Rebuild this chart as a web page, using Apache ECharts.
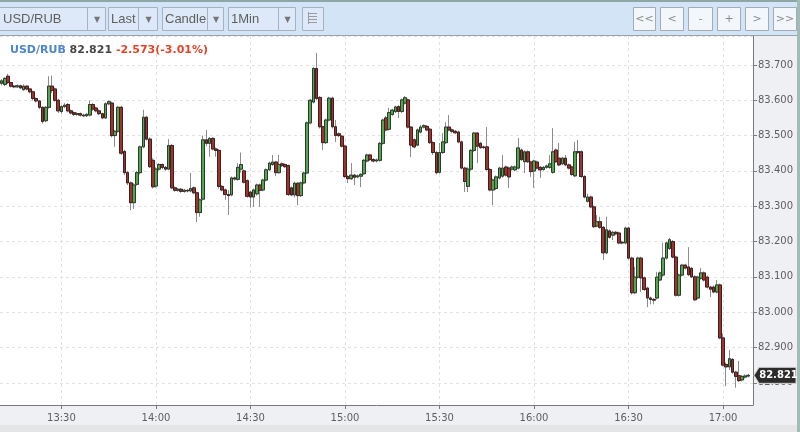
<!DOCTYPE html>
<html>
<head>
<meta charset="utf-8">
<script src="https://cdn.jsdelivr.net/npm/echarts@6/dist/echarts.min.js"></script>
<style>
html,body{margin:0;padding:0;background:#eef0f3;}
#chart{width:800px;height:432px;}
</style>
</head>
<body>
<div id="chart"></div>
<script>
// ---- data ----
const symbolName = 'USD/RUB';
const lastPrice = 82.821;
const priceChange = -2.573;
const priceChangePct = -3.01;
const startTime = '13:11';
const categoryCount = 239;
const xTickLabels = ['13:30','14:00','14:30','15:00','15:30','16:00','16:30','17:00'];
const yTickLabels = ['82.800','82.900','83.000','83.100','83.200','83.300','83.400','83.500','83.600','83.700'];
const yMin = 82.737;
const yMax = 83.782;
// [open, close, low, high] per minute
const candles = [
[83.648,83.655,83.642,83.660],[83.645,83.662,83.640,83.665],[83.668,83.650,83.646,83.675],[83.650,83.640,83.636,83.652],
[83.640,83.638,83.634,83.643],[83.638,83.641,83.635,83.645],[83.641,83.635,83.632,83.644],[83.630,83.640,83.627,83.645],
[83.640,83.632,83.628,83.642],[83.632,83.624,83.620,83.634],[83.624,83.605,83.600,83.627],[83.605,83.598,83.594,83.608],
[83.598,83.580,83.575,83.600],[83.580,83.540,83.534,83.583],[83.542,83.580,83.538,83.584],[83.580,83.640,83.576,83.668],
[83.640,83.628,83.620,83.670],[83.632,83.600,83.596,83.636],[83.600,83.570,83.564,83.604],[83.568,83.582,83.562,83.586],
[83.582,83.586,83.578,83.592],[83.588,83.570,83.566,83.592],[83.570,83.564,83.560,83.574],[83.565,83.560,83.556,83.568],
[83.560,83.562,83.556,83.566],[83.562,83.558,83.554,83.565],[83.558,83.556,83.552,83.562],[83.556,83.560,83.552,83.564],
[83.558,83.588,83.554,83.600],[83.588,83.575,83.570,83.592],[83.578,83.570,83.566,83.582],[83.570,83.562,83.558,83.574],
[83.562,83.550,83.546,83.565],[83.550,83.590,83.547,83.594],[83.590,83.596,83.586,83.600],[83.592,83.500,83.495,83.596],
[83.500,83.512,83.468,83.516],[83.512,83.580,83.508,83.584],[83.580,83.450,83.445,83.584],[83.455,83.395,83.388,83.460],
[83.395,83.366,83.360,83.400],[83.366,83.310,83.289,83.370],[83.310,83.360,83.292,83.365],[83.362,83.395,83.358,83.400],
[83.395,83.468,83.390,83.472],[83.468,83.552,83.464,83.573],[83.552,83.490,83.486,83.556],[83.490,83.412,83.408,83.495],
[83.430,83.355,83.350,83.436],[83.357,83.405,83.352,83.410],[83.405,83.418,83.400,83.422],[83.418,83.410,83.405,83.421],
[83.410,83.405,83.400,83.414],[83.405,83.472,83.402,83.490],[83.472,83.352,83.348,83.476],[83.352,83.345,83.341,83.356],
[83.345,83.348,83.341,83.352],[83.348,83.342,83.338,83.351],[83.342,83.345,83.338,83.349],[83.345,83.343,83.339,83.348],
[83.343,83.350,83.339,83.394],[83.352,83.338,83.334,83.356],[83.338,83.282,83.255,83.341],[83.282,83.318,83.270,83.322],
[83.320,83.488,83.316,83.500],[83.488,83.478,83.470,83.516],[83.478,83.492,83.440,83.496],[83.492,83.462,83.458,83.495],
[83.462,83.458,83.440,83.466],[83.458,83.356,83.350,83.462],[83.356,83.346,83.342,83.360],[83.346,83.333,83.318,83.350],
[83.333,83.330,83.275,83.345],[83.332,83.380,83.328,83.384],[83.380,83.377,83.372,83.384],[83.376,83.410,83.372,83.422],
[83.405,83.418,83.395,83.452],[83.400,83.368,83.364,83.404],[83.372,83.328,83.324,83.376],[83.340,83.326,83.296,83.344],
[83.326,83.346,83.298,83.350],[83.335,83.360,83.330,83.364],[83.360,83.345,83.298,83.364],[83.346,83.374,83.342,83.378],
[83.374,83.403,83.370,83.407],[83.403,83.422,83.400,83.426],[83.418,83.425,83.414,83.445],[83.425,83.395,83.385,83.428],
[83.395,83.418,83.392,83.445],[83.420,83.415,83.411,83.424],[83.418,83.412,83.408,83.421],[83.415,83.333,83.329,83.418],
[83.352,83.332,83.328,83.356],[83.332,83.365,83.325,83.370],[83.365,83.330,83.303,83.368],[83.330,83.366,83.326,83.370],
[83.366,83.394,83.362,83.398],[83.394,83.536,83.390,83.540],[83.536,83.600,83.532,83.604],[83.595,83.690,83.591,83.694],
[83.690,83.605,83.600,83.734],[83.608,83.525,83.520,83.612],[83.525,83.480,83.459,83.528],[83.480,83.544,83.476,83.548],
[83.544,83.606,83.540,83.610],[83.606,83.525,83.520,83.610],[83.525,83.500,83.482,83.544],[83.505,83.500,83.496,83.509],
[83.498,83.470,83.466,83.502],[83.470,83.384,83.380,83.474],[83.384,83.378,83.366,83.388],[83.378,83.388,83.374,83.422],
[83.388,83.382,83.360,83.392],[83.383,83.386,83.379,83.390],[83.385,83.390,83.354,83.394],[83.392,83.430,83.388,83.434],
[83.428,83.445,83.424,83.449],[83.445,83.432,83.428,83.448],[83.432,83.428,83.424,83.436],[83.428,83.431,83.424,83.435],
[83.430,83.478,83.426,83.482],[83.478,83.544,83.474,83.548],[83.550,83.516,83.512,83.556],[83.518,83.565,83.514,83.578],
[83.560,83.572,83.556,83.576],[83.568,83.581,83.564,83.585],[83.582,83.568,83.550,83.586],[83.568,83.601,83.564,83.605],
[83.592,83.607,83.588,83.612],[83.601,83.524,83.520,83.605],[83.524,83.473,83.439,83.527],[83.488,83.468,83.464,83.492],
[83.473,83.516,83.470,83.520],[83.510,83.524,83.506,83.530],[83.524,83.528,83.520,83.532],[83.526,83.516,83.512,83.530],
[83.518,83.480,83.476,83.522],[83.480,83.452,83.445,83.484],[83.452,83.395,83.390,83.456],[83.396,83.452,83.392,83.479],
[83.452,83.482,83.448,83.507],[83.480,83.524,83.476,83.538],[83.524,83.516,83.512,83.558],[83.516,83.512,83.507,83.520],
[83.512,83.508,83.504,83.516],[83.510,83.482,83.478,83.514],[83.482,83.408,83.404,83.486],[83.408,83.370,83.340,83.412],
[83.356,83.405,83.340,83.410],[83.405,83.458,83.400,83.462],[83.458,83.507,83.454,83.511],[83.507,83.470,83.422,83.510],
[83.478,83.466,83.462,83.482],[83.468,83.466,83.462,83.472],[83.468,83.404,83.400,83.524],[83.404,83.346,83.342,83.408],
[83.346,83.374,83.303,83.378],[83.350,83.383,83.346,83.387],[83.380,83.408,83.376,83.412],[83.385,83.408,83.381,83.445],
[83.411,83.388,83.384,83.415],[83.408,83.383,83.352,83.412],[83.405,83.411,83.401,83.415],[83.403,83.411,83.399,83.415],
[83.408,83.465,83.404,83.493],[83.459,83.432,83.428,83.463],[83.426,83.454,83.394,83.458],[83.454,83.426,83.422,83.458],
[83.425,83.398,83.383,83.429],[83.400,83.428,83.352,83.432],[83.425,83.408,83.404,83.429],[83.410,83.403,83.380,83.414],
[83.404,83.410,83.400,83.414],[83.410,83.414,83.406,83.418],[83.410,83.420,83.406,83.445],[83.396,83.454,83.392,83.521],
[83.459,83.426,83.422,83.463],[83.436,83.417,83.413,83.479],[83.420,83.436,83.416,83.440],[83.436,83.417,83.413,83.445],
[83.417,83.408,83.404,83.421],[83.411,83.390,83.386,83.415],[83.386,83.454,83.382,83.482],[83.452,83.455,83.448,83.488],
[83.454,83.384,83.380,83.458],[83.384,83.326,83.322,83.388],[83.314,83.326,83.310,83.335],[83.326,83.298,83.294,83.330],
[83.298,83.242,83.238,83.302],[83.244,83.256,83.240,83.275],[83.256,83.240,83.236,83.270],[83.240,83.168,83.148,83.244],
[83.168,83.233,83.164,83.270],[83.230,83.212,83.208,83.234],[83.218,83.226,83.204,83.230],[83.226,83.222,83.218,83.230],
[83.224,83.196,83.192,83.228],[83.198,83.196,83.192,83.202],[83.196,83.238,83.192,83.242],[83.238,83.153,83.149,83.242],
[83.153,83.055,83.050,83.157],[83.055,83.099,83.051,83.128],[83.099,83.153,83.095,83.157],[83.153,83.097,83.057,83.157],
[83.097,83.064,83.060,83.101],[83.068,83.040,83.014,83.072],[83.040,83.036,83.022,83.044],[83.036,83.034,83.022,83.040],
[83.040,83.099,83.036,83.114],[83.091,83.111,83.087,83.115],[83.105,83.153,83.100,83.196],[83.153,83.196,83.149,83.200],
[83.180,83.205,83.176,83.210],[83.200,83.156,83.152,83.204],[83.156,83.048,83.044,83.160],[83.048,83.105,83.044,83.109],
[83.105,83.133,83.101,83.137],[83.133,83.125,83.121,83.137],[83.128,83.106,83.102,83.184],[83.124,83.100,83.096,83.128],
[83.100,83.035,83.031,83.104],[83.040,83.099,83.036,83.103],[83.096,83.111,83.092,83.125],[83.111,83.091,83.087,83.115],
[83.099,83.071,83.067,83.103],[83.071,83.065,83.043,83.075],[83.071,83.057,83.053,83.075],[83.057,83.077,83.053,83.091],
[83.077,82.927,82.923,83.081],[82.927,82.850,82.846,82.940],[82.852,82.845,82.790,82.858],[82.845,82.868,82.836,82.893],
[82.866,82.830,82.826,82.870],[82.830,82.818,82.786,82.834],[82.820,82.806,82.802,82.862],[82.808,82.818,82.804,82.822],
[82.816,82.819,82.812,82.824],[82.819,82.821,82.815,82.825]
];

// ---- build ----
const categories = [];
(function(){
  const p = startTime.split(':');
  const s = (+p[0]) * 60 + (+p[1]);
  for (let k = 0; k < categoryCount; k++) {
    const m = s + k;
    categories.push(String(Math.floor(m / 60)).padStart(2, '0') + ':' + String(m % 60).padStart(2, '0'));
  }
})();
const bodies = candles.map(d => [d[0], d[1], Math.min(d[0], d[1]), Math.max(d[0], d[1])]);
const showTick = (idx, val) => xTickLabels.indexOf(val) >= 0;

const FONT = 'DejaVu Sans';
const UP = '#4fa84c', DOWN = '#a3302b';

// toolbar graphics
const g = [];
g.push({type:'rect', shape:{x:0,y:0,width:800,height:35}, style:{fill:'#d4e4f7'}, z:100});
g.push({type:'rect', shape:{x:0,y:0,width:800,height:2}, style:{fill:'#8ea6a6'}, z:101});
g.push({type:'line', shape:{x1:0,y1:35.5,x2:800,y2:35.5}, style:{stroke:'#9aa3aa', lineWidth:1}, z:101});
g.push({type:'rect', shape:{x:797,y:0,width:3,height:432}, style:{fill:'#a3bbb6'}, z:102});
g.push({type:'rect', shape:{x:0,y:425,width:797,height:7}, style:{fill:'#e3e5e7'}, z:100});
const dropdowns = [
  {x:-1, w:106, div:87, label:symbolName},
  {x:108, w:49, div:138, label:'Last'},
  {x:162, w:61, div:207, label:'Candle'},
  {x:228, w:67, div:278, label:'1Min'}
];
dropdowns.forEach(d => {
  g.push({type:'rect', shape:{x:d.x+0.5,y:7.5,width:d.w,height:23}, style:{fill:'#dde9f8', stroke:'#a6b2bf', lineWidth:1}, z:103});
  g.push({type:'line', shape:{x1:d.div+0.5,y1:8,x2:d.div+0.5,y2:30}, style:{stroke:'#a6b2bf', lineWidth:1}, z:104});
  g.push({type:'text', x:Math.max(d.x,0)+3, y:19, style:{text:d.label, fill:'#5f5f5f', font:'13px "Liberation Sans"', textVerticalAlign:'middle'}, z:104});
  g.push({type:'text', x:(d.div + d.x + d.w)/2 + 1, y:20, style:{text:'▼', fill:'#777', font:'8px "DejaVu Sans"', textAlign:'center', textVerticalAlign:'middle'}, z:104});
});
g.push({type:'rect', shape:{x:302.5,y:7.5,width:21,height:23}, style:{fill:'#dde9f8', stroke:'#a6b2bf', lineWidth:1}, z:103});
for (let k = 0; k < 4; k++) {
  g.push({type:'line', shape:{x1:309,y1:13.5+k*3,x2:317,y2:13.5+k*3}, style:{stroke:'#9a9aa0', lineWidth:1}, z:104});
}
g.push({type:'line', shape:{x1:308.5,y1:12,x2:308.5,y2:24}, style:{stroke:'#9a9aa0', lineWidth:1}, z:104});
const navButtons = [[633,22,'<<'],[660,23,'<'],[688,24,'-'],[717,23,'+'],[745,23,'>'],[773,23,'>>']];
navButtons.forEach(b => {
  g.push({type:'rect', shape:{x:b[0]+0.5,y:7.5,width:b[1],height:23}, style:{fill:'#f3f6fa', stroke:'#a3acb5', lineWidth:1}, z:103});
  g.push({type:'text', x:b[0]+b[1]/2+0.5, y:19, style:{text:b[2], fill:'#8a8a8a', font:'11px "DejaVu Sans"', textAlign:'center', textVerticalAlign:'middle'}, z:104});
});

const chart = echarts.init(document.getElementById('chart'), null, {renderer:'canvas'});
const option = {
  animation: false,
  backgroundColor: '#eef0f3',
  title: {
    left: 5, top: 40,
    text: '{a|' + symbolName + '} {b|' + lastPrice.toFixed(3) + '} {c|' + priceChange.toFixed(3) + '(' + priceChangePct.toFixed(2) + '%)}',
    textStyle: {
      fontFamily: FONT, fontSize: 11, fontWeight: 'bold',
      rich: {
        a: {color:'#4d86c9', fontFamily: FONT, fontSize: 11, fontWeight:'bold'},
        b: {color:'#474747', fontFamily: FONT, fontSize: 11, fontWeight:'bold'},
        c: {color:'#e2452a', fontFamily: FONT, fontSize: 11, fontWeight:'bold'}
      }
    }
  },
  grid: {left: 0, right: 47, top: 36, bottom: 27, show: true, backgroundColor: '#ffffff', borderWidth: 0},
  xAxis: {
    type: 'category', data: categories, boundaryGap: true,
    axisLine: {lineStyle: {color: '#7a7a7a', width: 1}},
    axisTick: {show: true, alignWithLabel: true, interval: showTick, length: 4, lineStyle: {color: '#7a7a7a'}},
    axisLabel: {interval: showTick, color: '#5e5e5e', fontFamily: FONT, fontSize: 10, margin: 8},
    splitLine: {show: true, alignWithLabel: true, interval: showTick, lineStyle: {color: '#e2e2e2', type: [3, 3]}}
  },
  yAxis: {
    type: 'value', position: 'right', min: yMin, max: yMax, splitNumber: 10,
    axisLine: {show: true, lineStyle: {color: '#7a7a7a'}},
    axisTick: {show: true, length: 4, lineStyle: {color: '#7a7a7a'}},
    axisLabel: {
      color: '#5e5e5e', fontFamily: FONT, fontSize: 10, margin: 5,
      showMinLabel: false, showMaxLabel: false,
      formatter: v => { const s = v.toFixed(3); return yTickLabels.indexOf(s) >= 0 ? s : ''; }
    },
    splitLine: {show: true, lineStyle: {color: '#e2e2e2', type: [3, 3]}}
  },
  series: [
    {
      type: 'candlestick', name: 'wick', data: candles, barWidth: 3.2, silent: true,
      itemStyle: {color: UP, color0: DOWN, borderColor: '#8c8c8c', borderColor0: '#8c8c8c', borderWidth: 1}
    },
    {
      type: 'candlestick', name: symbolName, data: bodies, barWidth: 3.2, silent: true,
      itemStyle: {color: UP, color0: DOWN, borderColor: '#2f3a2f', borderColor0: '#3a2222', borderWidth: 1}
    }
  ],
  graphic: g
};
chart.setOption(option);

// current-price tag placed through the y axis scale
const lastClose = candles[candles.length - 1][1];
const py = chart.convertToPixel({yAxisIndex: 0}, lastClose);
const ax = chart.convertToPixel({xAxisIndex: 0}, categories[categories.length - 1]);
const tagLeft = Math.round(ax + 3);
chart.setOption({
  graphic: g.concat([
    {type:'polygon', shape:{points:[[tagLeft, py],[tagLeft + 5, py - 8],[796, py - 8],[796, py + 8],[tagLeft + 5, py + 8]]},
     style:{fill:'#2c2c2c', stroke:'#d0d0d0', lineWidth:1}, z:110},
    {type:'text', x:(tagLeft + 5 + 796) / 2 + 1, y:py + 0.5,
     style:{text:lastClose.toFixed(3), fill:'#ffffff', font:'bold 10px "DejaVu Sans"', textAlign:'center', textVerticalAlign:'middle'}, z:111}
  ])
});
</script>
</body>
</html>
